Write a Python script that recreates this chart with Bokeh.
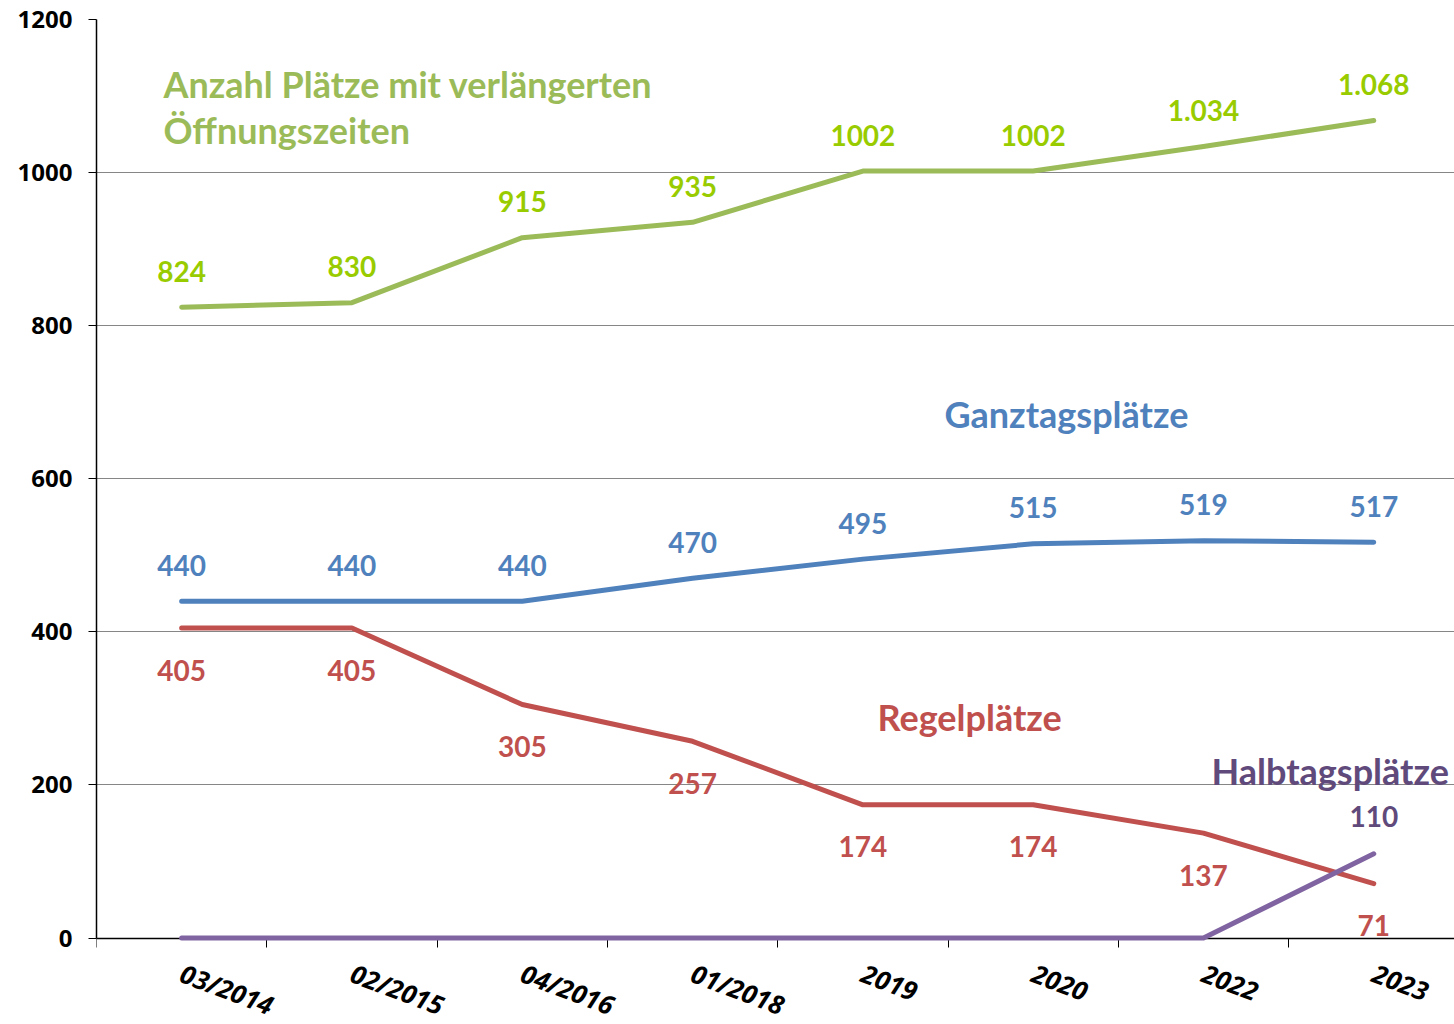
from bokeh.plotting import figure
from bokeh.models import Range1d, FixedTicker, Label, ColumnDataSource
from bokeh.core.properties import value
from bokeh.embed import file_html
from bokeh.resources import INLINE

categories = ["03/2014", "02/2015", "04/2016", "01/2018", "2019", "2020", "2022", "2023"]
verlaengert = [824, 830, 915, 935, 1002, 1002, 1034, 1068]
verlaengert_labels = ["824", "830", "915", "935", "1002", "1002", "1.034", "1.068"]
ganztag = [440, 440, 440, 470, 495, 515, 519, 517]
ganztag_labels = ["440", "440", "440", "470", "495", "515", "519", "517"]
regel = [405, 405, 305, 257, 174, 174, 137, 71]
regel_labels = ["405", "405", "305", "257", "174", "174", "137", "71"]
halbtag = [0, 0, 0, 0, 0, 0, 0, 110]
halbtag_labels = ["", "", "", "", "", "", "", "110"]
y_ticks = [0, 200, 400, 600, 800, 1000, 1200]

xs = list(range(len(categories)))

# the frame reaches down to the page bottom so that the category labels
# (drawn by an axis fixed at y=0) stay inside the drawable area
p = figure(width=1454, height=1024, output_backend="svg", toolbar_location=None,
           x_range=Range1d(-0.5, 7.474), y_range=Range1d(-113, 1200),
           min_border_left=96, min_border_right=0, min_border_top=19, min_border_bottom=0)
p.outline_line_color = None
p.background_fill_color = "white"
p.border_fill_color = "white"

# grid
p.xgrid.grid_line_color = None
p.ygrid.ticker = FixedTicker(ticks=y_ticks[1:])
p.ygrid.grid_line_color = "#868686"
p.ygrid.grid_line_width = 1

# y axis
p.yaxis.ticker = FixedTicker(ticks=y_ticks)
p.yaxis.bounds = (0, 1200)
p.yaxis.axis_line_color = "black"
p.yaxis.axis_line_width = 1.5
p.yaxis.major_tick_line_color = "black"
p.yaxis.major_tick_out = 8
p.yaxis.major_tick_in = 0
p.yaxis.minor_tick_line_color = None
p.yaxis.major_label_text_font = "Open Sans"
p.yaxis.major_label_text_font_style = "bold"
p.yaxis.major_label_text_font_size = "24px"
p.yaxis.major_label_text_color = "black"
p.yaxis.major_label_standoff = 16

# x axis at y=0: ticks at category boundaries, labels at category centres
p.xaxis.fixed_location = 0
p.xaxis.level = "underlay"
p.xaxis.ticker = FixedTicker(ticks=xs, minor_ticks=[i - 0.5 for i in range(len(categories) + 1)])
p.xaxis.major_label_overrides = {i: c for i, c in enumerate(categories)}
p.xaxis.axis_line_color = "black"
p.xaxis.axis_line_width = 1.5
p.xaxis.major_tick_line_color = None
p.xaxis.major_tick_out = 9
p.xaxis.minor_tick_line_color = "black"
p.xaxis.minor_tick_out = 9
p.xaxis.minor_tick_in = 0
p.xaxis.major_label_orientation = -0.36
p.xaxis.major_label_text_font = "Open Sans"
p.xaxis.major_label_text_font_style = "bold italic"
p.xaxis.major_label_text_font_size = "26px"
p.xaxis.major_label_text_color = "black"
p.xaxis.major_label_standoff = 25

series = [
    (verlaengert, verlaengert_labels, "#9BBB59", "#99CC00", -36),
    (ganztag, ganztag_labels, "#4F81BD", "#4F81BD", -36),
    (regel, regel_labels, "#C0504D", "#C0504D", 42),
    (halbtag, halbtag_labels, "#8064A2", "#604A7B", -37),
]

for vals, labs, lc, tc, off in series:
    src = ColumnDataSource(dict(x=xs, y=vals, t=labs))
    p.line("x", "y", source=src, line_color=lc, line_width=5, line_cap="round", line_join="round")
for vals, labs, lc, tc, off in series:
    src = ColumnDataSource(dict(x=xs, y=vals, t=labs))
    p.text("x", "y", text="t", source=src, text_color=tc, text_font=value("Lato"),
           text_font_style="bold", text_font_size="28px", text_align="center",
           text_baseline="middle", y_offset=off)

names = [
    ("Anzahl Plätze mit verlängerten", -0.107, 1116, "#9BBB59"),
    ("Öffnungszeiten", -0.107, 1055, "#9BBB59"),
    ("Ganztagsplätze", 4.479, 684, "#4F81BD"),
    ("Regelplätze", 4.086, 289, "#C0504D"),
    ("Halbtagsplätze", 6.047, 218, "#604A7B"),
]
for txt, x, y, c in names:
    p.add_layout(Label(x=x, y=y, text=txt, text_color=c, text_font="Lato",
                       text_font_style="bold", text_font_size="36px",
                       text_align="left", text_baseline="middle"))

open("out.html", "w").write(file_html(p, INLINE))
